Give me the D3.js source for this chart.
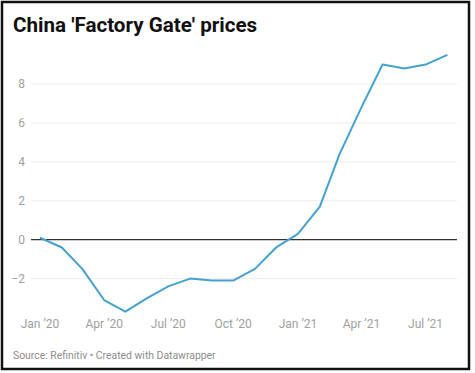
<html>
<head>
<title>China Factory Gate prices</title>
<script src="https://d3js.org/d3.v7.min.js"></script>
<style>
body { margin: 0; background: white; }
text { font-family: Roboto, sans-serif; }
</style>
</head>
<body>
<svg width="475" height="373"></svg>
<script>
// PPI year-on-year, monthly from Jan 2020
var months = ["2020-01","2020-02","2020-03","2020-04","2020-05","2020-06","2020-07","2020-08","2020-09","2020-10","2020-11","2020-12",
              "2021-01","2021-02","2021-03","2021-04","2021-05","2021-06","2021-07","2021-08"];
var values = [0.1, -0.4, -1.5, -3.1, -3.7, -3.0, -2.4, -2.0, -2.1, -2.1, -1.5, -0.4,
              0.3, 1.7, 4.4, 6.8, 9.0, 8.8, 9.0, 9.5];
var yTicks = [-2, 0, 2, 4, 6, 8];
var xTicks = ["2020-01","2020-04","2020-07","2020-10","2021-01","2021-04","2021-07"];

var parse = d3.timeParse("%Y-%m");
var data = months.map(function (m, i) { return { date: parse(m), value: values[i] }; });

var svg = d3.select("svg");

// frame
svg.append("rect")
  .attr("x", 2).attr("y", 2)
  .attr("width", 467).attr("height", 367)
  .attr("fill", "white")
  .attr("stroke", "#111")
  .attr("stroke-width", 2.5);

svg.append("text")
  .attr("x", 13).attr("y", 32)
  .attr("font-size", 20.6)
  .attr("font-weight", "bold")
  .attr("fill", "#111")
  .text("China 'Factory Gate' prices");

var x = d3.scaleTime().domain([parse("2020-01"), parse("2021-08")]).range([40, 447.4]);
var y = d3.scaleLinear().domain([-2, 8]).range([278.6, 84]);

// gridlines + y labels
var grid = svg.append("g");
grid.selectAll("line")
  .data(yTicks)
  .enter().append("line")
    .attr("x1", 31).attr("x2", 457)
    .attr("y1", function (d) { return y(d); })
    .attr("y2", function (d) { return y(d); })
    .attr("stroke", function (d) { return d === 0 ? "#333" : "#ededed"; })
    .attr("stroke-width", function (d) { return d === 0 ? 1.2 : 1; });
grid.selectAll("text")
  .data(yTicks)
  .enter().append("text")
    .attr("x", 25)
    .attr("y", function (d) { return y(d) + 4; })
    .attr("text-anchor", "end")
    .attr("font-size", 12)
    .attr("fill", "#a0a0a0")
    .text(function (d) { return d < 0 ? "\u2212" + Math.abs(d) : d; });

// x labels
var fmt = d3.timeFormat("%b '%y");
svg.append("g").selectAll("text")
  .data(xTicks)
  .enter().append("text")
    .attr("x", function (d) { return x(parse(d)); })
    .attr("y", 328)
    .attr("text-anchor", "middle")
    .attr("font-size", 12)
    .attr("fill", "#a0a0a0")
    .text(function (d) { return fmt(parse(d)).replace("'", "\u2019"); });

var line = d3.line()
  .x(function (d) { return x(d.date); })
  .y(function (d) { return y(d.value); });

svg.append("path")
  .datum(data)
  .attr("d", line)
  .attr("fill", "none")
  .attr("stroke", "#43a2d0")
  .attr("stroke-width", 2)
  .attr("stroke-linejoin", "round");

svg.append("text")
  .attr("x", 13).attr("y", 359)
  .attr("font-size", 10.4)
  .attr("fill", "#8c8c8c")
  .text("Source: Refinitiv \u2022 Created with Datawrapper");
</script>
</body>
</html>
